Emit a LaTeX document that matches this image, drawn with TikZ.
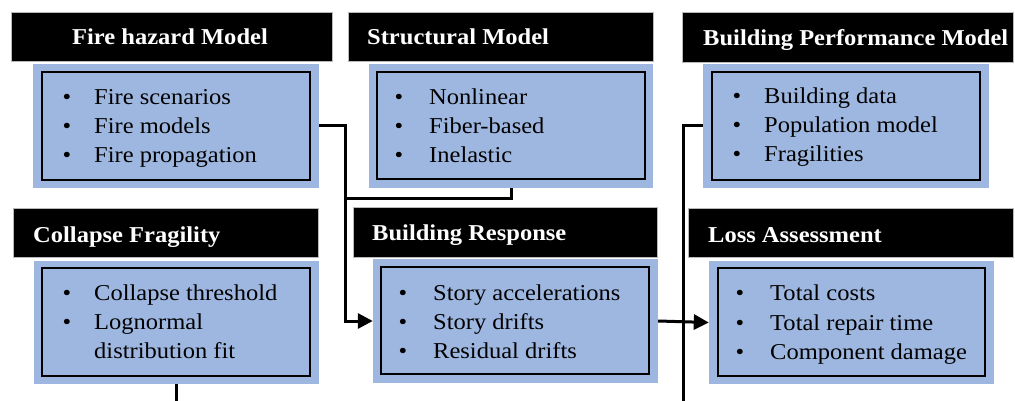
\documentclass[tikz,border=0pt]{standalone}
\usepackage{fontspec}
\setmainfont{Liberation Serif}[FakeStretch=1.08]
\usetikzlibrary{arrows.meta}
\definecolor{boxblue}{RGB}{158,183,224}
\newcommand\lineitem[5]{%
  \node[bul] (#1b) at (#2,#4) {\textbullet};
  \node[item] (#1) at (#3,#4) {#5};}
\newcommand\contitem[4]{%
  \node[item] (#1) at (#2,#3) {#4};}
\begin{document}
\begin{tikzpicture}[x=1pt,y=-1pt,
  every node/.append style={font=\fontsize{22.7}{29}\selectfont},
  hdr/.style={fill=black, draw=gray!55, line width=0.6pt, inner sep=0pt},
  outerbox/.style={fill=boxblue, inner sep=0pt},
  innerbox/.style={draw=black, line width=1.2pt, inner sep=0pt},
  title/.style={anchor=base west, text=white, inner sep=0pt, font=\fontsize{22.7}{29}\selectfont\bfseries},
  item/.style={anchor=base west, inner sep=0pt},
  bul/.style={anchor=base, inner sep=0pt},
  conn/.style={line width=3pt, line join=miter},
  arr/.style={conn, -{Triangle[length=15pt,width=15pt]}}]
\useasboundingbox (0,0) rectangle (1015,401);

% ---- Fire hazard Model
\node[hdr, minimum width=321pt, minimum height=49pt] (fireH) at (171.5,36.5) {};
\node[title] (fireT) at (72,45) {Fire hazard Model};
\node[outerbox, minimum width=286pt, minimum height=124pt] (fireO) at (176,126) {};
\node[innerbox, minimum width=268pt, minimum height=108pt] (fireI) at (176,126) {};
\lineitem{f1}{67}{94}{105}{Fire scenarios}
\lineitem{f2}{67}{94}{134}{Fire models}
\lineitem{f3}{67}{94}{163}{Fire propagation}

% ---- Structural Model
\node[hdr, minimum width=305pt, minimum height=49pt] (strH) at (500.5,36.5) {};
\node[title] (strT) at (367,45) {Structural Model};
\node[outerbox, minimum width=284pt, minimum height=124pt] (strO) at (511,126) {};
\node[innerbox, minimum width=268pt, minimum height=107pt] (strI) at (511,125.5) {};
\lineitem{s1}{399}{429}{105}{Nonlinear}
\lineitem{s2}{399}{429}{134}{Fiber-based}
\lineitem{s3}{399}{429}{163}{Inelastic}

% ---- Building Performance Model
\node[hdr, minimum width=331pt, minimum height=50pt] (bpmH) at (847.5,37) {};
\node[title] (bpmT) at (703,46) {Building Performance Model};
\node[outerbox, minimum width=286pt, minimum height=124pt] (bpmO) at (846,126) {};
\node[innerbox, minimum width=268pt, minimum height=108pt] (bpmI) at (846,126) {};
\lineitem{p1}{737}{764}{104}{Building data}
\lineitem{p2}{737}{764}{133}{Population model}
\lineitem{p3}{737}{764}{162}{Fragilities}

% ---- Collapse Fragility
\node[hdr, minimum width=305pt, minimum height=49pt] (colH) at (165.5,232.5) {};
\node[title] (colT) at (33,242) {Collapse Fragility};
\node[outerbox, minimum width=285pt, minimum height=123pt] (colO) at (176.5,322.5) {};
\node[innerbox, minimum width=268pt, minimum height=108pt] (colI) at (176,322) {};
\lineitem{c1}{67}{94}{300}{Collapse threshold}
\lineitem{c2}{67}{94}{329}{Lognormal}
\contitem{c3}{94}{358}{distribution fit}

% ---- Building Response
\node[hdr, minimum width=304pt, minimum height=50pt] (resH) at (505,232) {};
\node[title] (resT) at (372,240) {Building Response};
\node[outerbox, minimum width=285pt, minimum height=124pt] (resO) at (515.5,321) {};
\node[innerbox, minimum width=268pt, minimum height=107pt] (resI) at (515,320.5) {};
\lineitem{r1}{403}{433}{300}{Story accelerations}
\lineitem{r2}{403}{433}{329}{Story drifts}
\lineitem{r3}{403}{433}{358}{Residual drifts}

% ---- Loss Assessment
\node[hdr, minimum width=325pt, minimum height=49pt] (losH) at (850.5,232.5) {};
\node[title] (losT) at (708,242) {Loss Assessment};
\node[outerbox, minimum width=285pt, minimum height=123pt] (losO) at (851.5,322.5) {};
\node[innerbox, minimum width=267pt, minimum height=108pt] (losI) at (851.5,322) {};
\lineitem{l1}{740}{770}{300}{Total costs}
\lineitem{l2}{740}{770}{330}{Total repair time}
\lineitem{l3}{740}{770}{359}{Component damage}

% ---- connectors
\coordinate (bendA) at (345,126);
\coordinate (bendB) at (345,198);
\coordinate (bendC) at (683,126);
\coordinate (endC) at (683,401);
\coordinate (endD) at (176.5,401);

\draw[arr] (fireO.east) -- (bendA) |- (resO.west);
\draw[conn] (strO.south) |- (bendB);
\draw[conn] (bpmO.west) -- (bendC) -- (endC);
\draw[arr] (resO.east) -- (losO.west);
\draw[conn] (colO.south) -- (endD);
\end{tikzpicture}
\end{document}
